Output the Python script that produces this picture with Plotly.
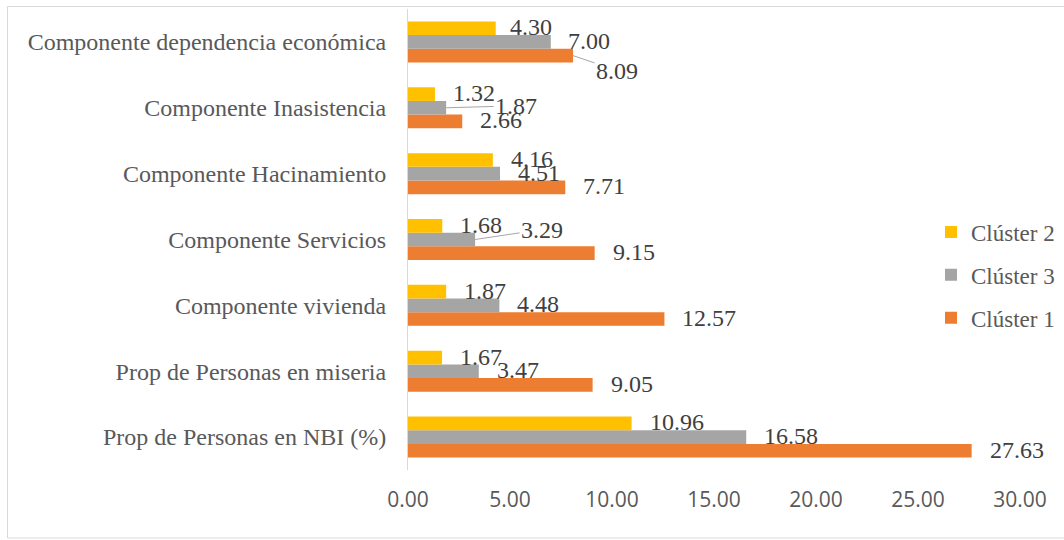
import plotly.graph_objects as go

categories = [
    "Prop de Personas en NBI (%)",
    "Prop de Personas en miseria",
    "Componente vivienda",
    "Componente Servicios",
    "Componente Hacinamiento",
    "Componente Inasistencia",
    "Componente dependencia económica",
]
cluster1 = [27.63, 9.05, 12.57, 9.15, 7.71, 2.66, 8.09]
cluster3 = [16.58, 3.47, 4.48, 3.29, 4.51, 1.87, 7.00]
cluster2 = [10.96, 1.67, 1.87, 1.68, 4.16, 1.32, 4.30]
x_ticks = [0, 5, 10, 15, 20, 25, 30]

# (name, values, colour, legend rank)
series = [
    ("Clúster 1", cluster1, "#ED7D31", 3),
    ("Clúster 3", cluster3, "#A5A5A5", 2),
    ("Clúster 2", cluster2, "#FFC000", 1),
]

BARGAP = 0.377
bar_w = (1 - BARGAP) / 3

# labels with leader lines (pixels): (series name, category index) -> (dx, dy)
leaders = {
    ("Clúster 1", 6): (22, -15),
    ("Clúster 3", 5): (48, 2),
    ("Clúster 3", 3): (45, 10),
}
# small extra horizontal nudges for plain labels (pixels)
shifts = {
    ("Clúster 2", 6): -4,
    ("Clúster 3", 6): -1,
}

fig = go.Figure()
for name, vals, col, rank in series:
    fig.add_trace(go.Bar(
        y=categories, x=vals, orientation="h", name=name,
        marker=dict(color=col, line=dict(width=0)),
        legendgroup=name, legendrank=rank,
    ))

label_font = dict(family="Liberation Serif", size=24, color="#404040")
annotations = []
for k, (name, vals, col, rank) in enumerate(series):
    off = (k - 1) * bar_w
    for i, v in enumerate(vals):
        txt = f"{v:.2f}"
        if (name, i) in leaders:
            dx, dy = leaders[(name, i)]
            annotations.append(dict(
                x=v, y=i + off, xref="x", yref="y", text=txt,
                showarrow=True, arrowhead=0, arrowwidth=1, arrowcolor="#A6A6A6",
                ax=dx + 22, ay=-dy, standoff=0, startstandoff=0,
                font=label_font,
            ))
        else:
            annotations.append(dict(
                x=v, y=i + off, xref="x", yref="y", text=txt,
                showarrow=False, xanchor="left", yanchor="middle",
                xshift=16 + shifts.get((name, i), 0), yshift=1,
                font=label_font,
            ))

L, R, T, B = 408, 44, 9, 70
W, H = 1064, 540
pw, ph = W - L - R, H - T - B

def px_x(p):
    return (p - L) / pw

def px_y(p):
    return (H - B - p) / ph

fig.update_layout(
    width=W, height=H, autosize=False,
    margin=dict(l=L, r=R, t=T, b=B, pad=0, autoexpand=False),
    paper_bgcolor="white", plot_bgcolor="white",
    barmode="group", bargap=BARGAP, bargroupgap=0,
    annotations=annotations,
    showlegend=True,
    legend=dict(
        x=px_x(931), y=px_y(275), xanchor="left", yanchor="middle",
        traceorder="grouped", tracegroupgap=10,
        font=dict(family="Liberation Serif", size=23, color="#595959"),
        bgcolor="rgba(0,0,0,0)",
    ),
    xaxis=dict(
        range=[0, 30], tickvals=x_ticks, ticktext=[f"{t:.2f}" for t in x_ticks],
        showgrid=False, zeroline=False, showline=False,
        ticks="outside", ticklen=11, tickcolor="rgba(0,0,0,0)",
        tickfont=dict(family="Open Sans", size=21, color="#595959"),
        fixedrange=True,
    ),
    yaxis=dict(
        type="category", categoryorder="array", categoryarray=categories,
        range=[-0.5, len(categories) - 0.5],
        showgrid=False, zeroline=False,
        showline=True, linecolor="#D9D9D9", linewidth=1,
        ticks="outside", ticklen=16, tickcolor="rgba(0,0,0,0)",
        tickfont=dict(family="Liberation Serif", size=24, color="#595959"),
        fixedrange=True,
    ),
    shapes=[dict(
        type="rect", xref="paper", yref="paper",
        x0=px_x(7.5), x1=px_x(1080), y0=px_y(538), y1=px_y(6.5),
        line=dict(color="#D9D9D9", width=1), fillcolor="rgba(0,0,0,0)",
        layer="below",
    )],
)

fig.write_html(
    "out.html",
    config={"displayModeBar": False},
    post_script="document.body.style.margin='0';document.body.style.overflow='hidden';",
)
